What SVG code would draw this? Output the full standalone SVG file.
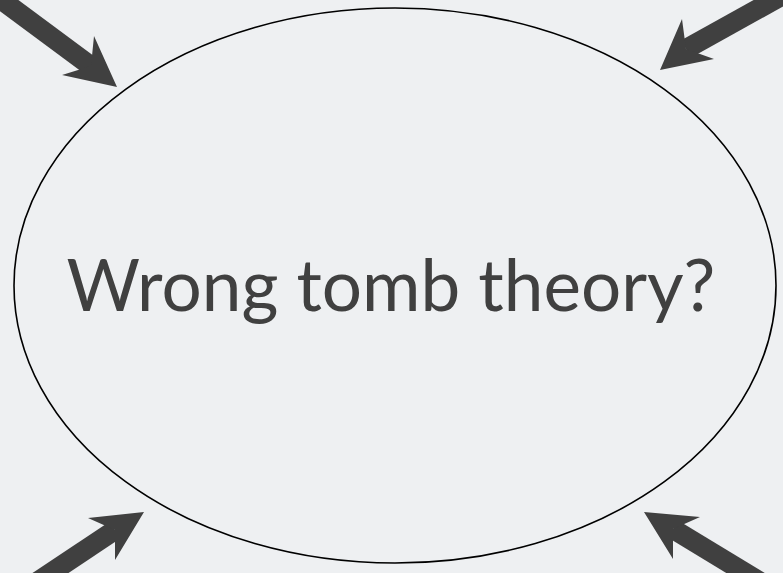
<svg xmlns="http://www.w3.org/2000/svg" width="783" height="573" viewBox="0 0 783 573">
<style>
.bg{fill:#eef0f2}
.shaft{stroke:#404040;stroke-width:20;fill:none}
.head{fill:#404040}
.node{fill:none;stroke:#000;stroke-width:1.6}
.label{font-family:"Lato","Open Sans",sans-serif;font-size:71px;fill:#404040}
</style>
<rect class="bg" x="0" y="0" width="783" height="573"/>
<g id="node-wrong-tomb">
<ellipse class="node" cx="395" cy="285.5" rx="381" ry="277.5"/>
<text class="label" x="391" y="311" text-anchor="middle">Wrong tomb theory?</text>
</g>
<g id="connectors">
<line class="shaft" x1="-20" y1="-16" x2="92" y2="67"/>
<polygon class="head" points="117,87 94,36 91,66 62,75"/>
<line class="shaft" x1="803" y1="-16" x2="686" y2="49"/>
<polygon class="head" points="660,70 682,19 686,49 714,59"/>
<line class="shaft" x1="10" y1="600" x2="115" y2="530"/>
<polygon class="head" points="144,512 88,518 115,530 115,560"/>
<line class="shaft" x1="790" y1="600" x2="673" y2="529"/>
<polygon class="head" points="644,512 700,517 673,529 673,559"/>
</g>
</svg>
